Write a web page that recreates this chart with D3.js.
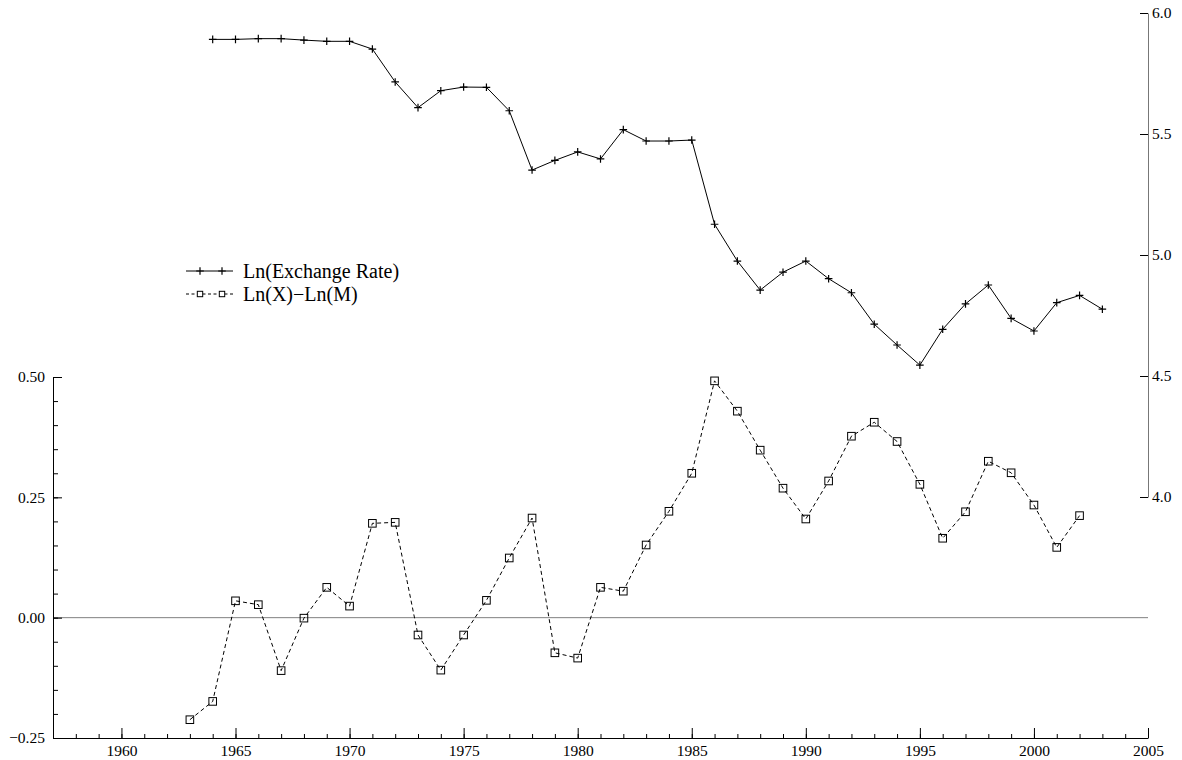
<!DOCTYPE html>
<html>
<head>
<meta charset="utf-8">
<script src="https://cdn.jsdelivr.net/npm/d3@7"></script>
<style>
  html, body { margin: 0; padding: 0; background: #fff; }
  svg { display: block; }
  text { font-family: "Liberation Serif", "Times New Roman", serif; fill: #000; }
</style>
</head>
<body>
<svg id="chart" width="1182" height="760"></svg>
<script>
// Ln(X) - Ln(M), 1963-2002 (left axis)
const tradeYears = d3.range(1963, 2003);
const tradeValues = [
  -0.212, -0.174, 0.035, 0.027, -0.110, -0.001, 0.063, 0.024, 0.196, 0.198,
  -0.036, -0.109, -0.036, 0.036, 0.124, 0.207, -0.073, -0.084, 0.063, 0.055,
  0.151, 0.221, 0.300, 0.492, 0.429, 0.348, 0.269, 0.205, 0.284, 0.377,
  0.406, 0.366, 0.277, 0.165, 0.220, 0.325, 0.301, 0.234, 0.146, 0.212
];

// Ln(Exchange Rate), 1964-2003 (right axis)
const rateYears = d3.range(1964, 2004);
const rateValues = [
  5.891, 5.891, 5.894, 5.894, 5.888, 5.883, 5.883, 5.851, 5.715, 5.609,
  5.679, 5.694, 5.693, 5.596, 5.351, 5.391, 5.426, 5.397, 5.518, 5.471,
  5.471, 5.475, 5.127, 4.975, 4.855, 4.929, 4.975, 4.902, 4.844, 4.714,
  4.628, 4.545, 4.693, 4.798, 4.876, 4.738, 4.686, 4.803, 4.833, 4.776
];

const yearTicks = d3.range(1960, 2006, 5);
const yearMinorTicks = d3.range(1958, 2005);
const leftTicks = [-0.25, 0, 0.25, 0.5];
const leftMinorTicks = d3.range(-0.2, 0.5, 0.05).map(v => +v.toFixed(2));
const rightTicks = [4.0, 4.5, 5.0, 5.5, 6.0];
const legendLabels = ["Ln(Exchange Rate)", "Ln(X)\u2212Ln(M)"];

const svg = d3.select("#chart");

const x = d3.scaleLinear().domain([1957, 2005]).range([53, 1148]);
const yL = d3.scaleLinear().domain([-0.25, 0.5]).range([738, 377]);
const yR = d3.scaleLinear().domain([4, 6]).range([497, 13]);

const serif = "'Liberation Serif', 'Times New Roman', serif";
const fontSize = "15.5px";
const styleAxis = g => g.attr("font-family", serif)
  .call(s => s.selectAll("text").style("font-size", fontSize).style("font-family", serif));

// zero reference line
svg.append("line")
  .attr("x1", x(1957)).attr("x2", x(2005))
  .attr("y1", yL(0)).attr("y2", yL(0))
  .attr("stroke", "#808080").attr("stroke-width", 1);

// bottom axis: minor then major ticks, pointing up
svg.append("g")
  .attr("transform", `translate(0,${yL(-0.25)})`)
  .call(d3.axisBottom(x).tickValues(yearMinorTicks).tickSize(-4).tickSizeOuter(0).tickFormat(""))
  .call(g => g.select(".domain").remove());

svg.append("g")
  .attr("transform", `translate(0,${yL(-0.25)})`)
  .call(d3.axisBottom(x).tickValues(yearTicks).tickSize(-10).tickSizeOuter(0).tickPadding(7).tickFormat(d3.format("d")))
  .call(g => g.select(".domain").attr("stroke", "#000"))
  .call(styleAxis);

// left axis
svg.append("g")
  .attr("transform", `translate(${x(1957)},0)`)
  .call(d3.axisLeft(yL).tickValues(leftMinorTicks).tickSize(-5).tickSizeOuter(0).tickFormat(""))
  .call(g => g.select(".domain").remove());

svg.append("g")
  .attr("transform", `translate(${x(1957)},0)`)
  .call(d3.axisLeft(yL).tickValues(leftTicks).tickSize(-9).tickSizeOuter(0).tickPadding(8).tickFormat(d3.format(".2f")))
  .call(g => g.select(".domain").attr("stroke", "#000"))
  .call(styleAxis);

// right axis
svg.append("g")
  .attr("transform", `translate(${x(2005)},0)`)
  .call(d3.axisRight(yR).tickValues(rightTicks).tickSize(-8).tickSizeOuter(0).tickPadding(4).tickFormat(d3.format(".1f")))
  .call(g => g.select(".domain").attr("stroke", "#777"))
  .call(styleAxis);

// series: exchange rate (solid with plus markers)
const rateData = rateYears.map((yr, i) => ({ yr, v: rateValues[i] }));
const tradeData = tradeYears.map((yr, i) => ({ yr, v: tradeValues[i] }));

svg.append("path")
  .datum(rateData)
  .attr("fill", "none").attr("stroke", "#000").attr("stroke-width", 1)
  .attr("d", d3.line().x(d => x(d.yr)).y(d => yR(d.v)));

const plus = (g, cx, cy, r) => {
  g.append("path")
    .attr("d", `M${cx - r},${cy}H${cx + r}M${cx},${cy - r}V${cy + r}`)
    .attr("stroke", "#000").attr("stroke-width", 1.2).attr("fill", "none");
};
const plusG = svg.append("g");
rateData.forEach(d => plus(plusG, x(d.yr), yR(d.v), 3.8));

// series: trade balance (dashed with square markers)
svg.append("path")
  .datum(tradeData)
  .attr("fill", "none").attr("stroke", "#000").attr("stroke-width", 1)
  .attr("stroke-dasharray", "4,3")
  .attr("d", d3.line().x(d => x(d.yr)).y(d => yL(d.v)));

svg.append("g").selectAll("rect")
  .data(tradeData)
  .join("rect")
  .attr("x", d => x(d.yr) - 3.8).attr("y", d => yL(d.v) - 3.8)
  .attr("width", 7.6).attr("height", 7.6)
  .attr("fill", "none").attr("stroke", "#000").attr("stroke-width", 1);

// legend
const legend = svg.append("g");
const lx0 = 186, lx1 = 233, row1 = 271, row2 = 294;
legend.append("line").attr("x1", lx0).attr("x2", lx1).attr("y1", row1).attr("y2", row1)
  .attr("stroke", "#000").attr("stroke-width", 1);
plus(legend, 200, row1, 3.8);
plus(legend, 222, row1, 3.8);
legend.append("line").attr("x1", lx0).attr("x2", lx1).attr("y1", row2).attr("y2", row2)
  .attr("stroke", "#000").attr("stroke-width", 1).attr("stroke-dasharray", "3,2.5");
[200, 222].forEach(cx => {
  legend.append("rect").attr("x", cx - 2.7).attr("y", row2 - 2.7).attr("width", 5.4).attr("height", 5.4)
    .attr("fill", "#fff").attr("stroke", "#000").attr("stroke-width", 1);
});
legend.selectAll("text.lab")
  .data(legendLabels)
  .join("text")
  .attr("class", "lab")
  .attr("x", 243)
  .attr("y", (d, i) => (i === 0 ? row1 : row2) + 7)
  .style("font-size", "20px")
  .text(d => d);
</script>
</body>
</html>
